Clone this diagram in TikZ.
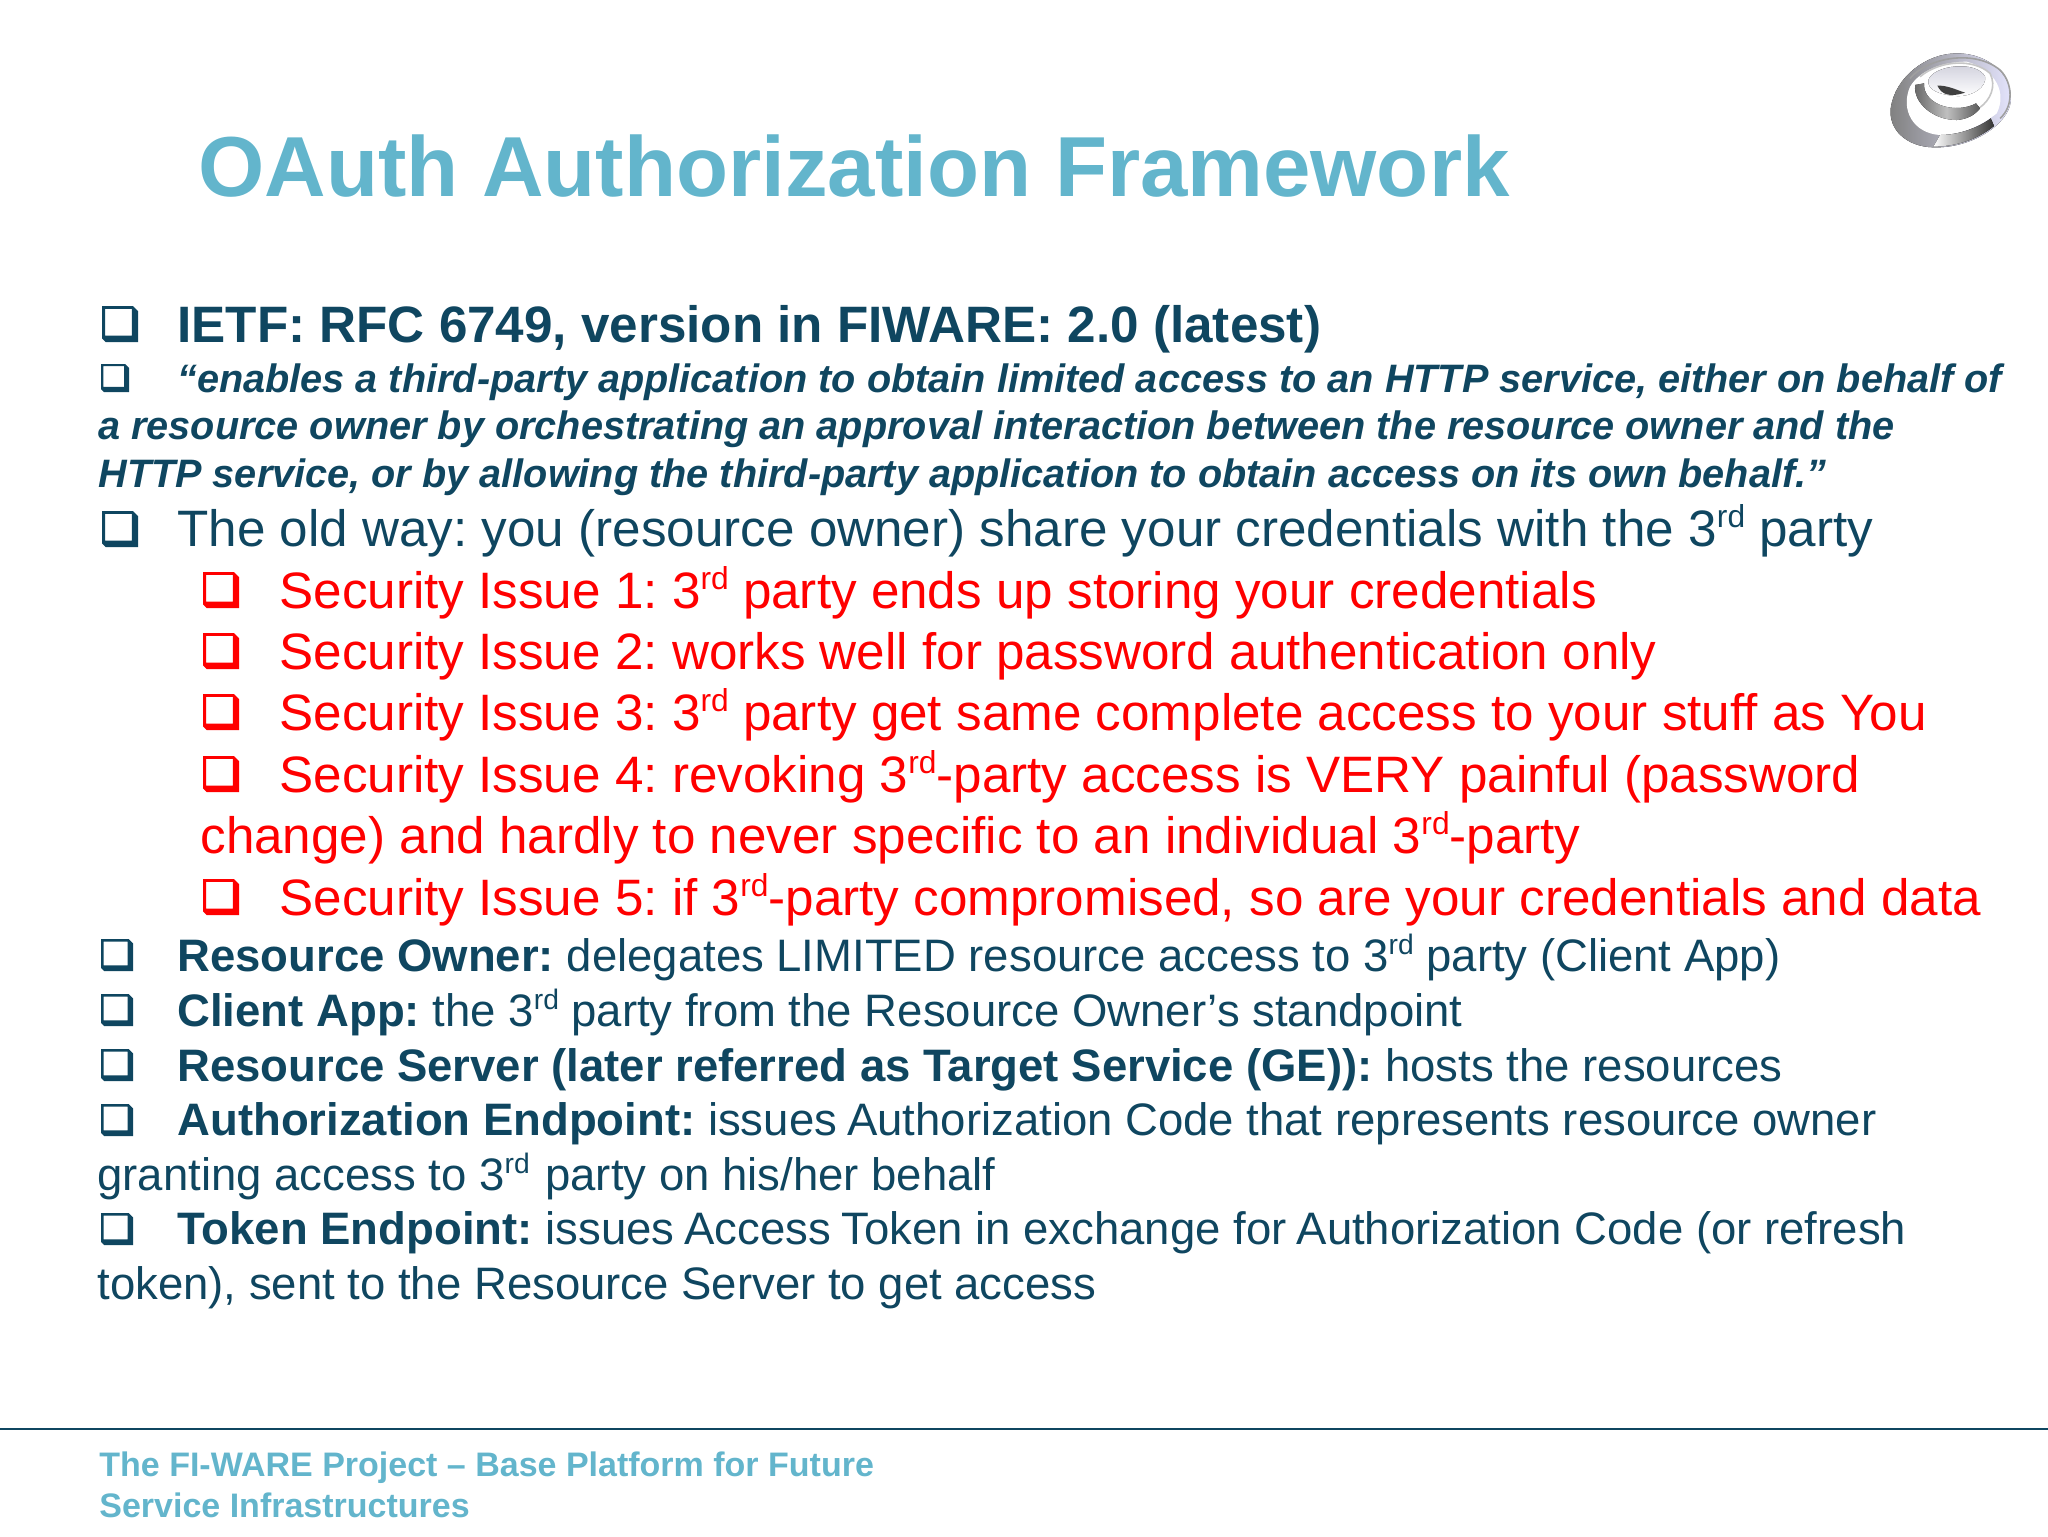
\documentclass[tikz,border=0pt]{standalone}
\usepackage{fontspec}
\setmainfont{Liberation Sans}
\frenchspacing
\definecolor{inkblue}{HTML}{0F4660}
\definecolor{skyblue}{HTML}{63B5CC}
\definecolor{alarmred}{HTML}{FF0000}
\newcommand{\thrd}{\raisebox{.36em}{\fontsize{.62em}{1em}\selectfont rd}}
\newcommand{\spA}{\kern-.055em A}
\newcommand{\spT}{\kern-.055em T}
% shadowed check box: x, baseline, size, colour
\newcommand{\chkbox}[4]{%
  \begin{scope}[shift={(#1,#2)},scale=#3]
    \fill[#4,even odd rule] (0,-.1) -- (.1,0) -- (1,0) -- (1,-.86) -- (.86,-1) -- (0,-1) -- cycle
      (.085,-.18) rectangle (.83,-.92);
  \end{scope}}
\tikzset{
  bodytext/.style={anchor=base west,inner sep=0pt,text=inkblue},
  bigtext/.style={bodytext,font=\fontsize{25.6}{30}\selectfont},
  midtext/.style={bodytext,font=\fontsize{22.75}{27}\selectfont},
  quotetext/.style={bodytext,font=\fontsize{19.83}{24}\bfseries\itshape\selectfont},
  redtext/.style={bigtext,text=alarmred},
  foottext/.style={anchor=base west,inner sep=0pt,text=skyblue,font=\fontsize{17}{20}\bfseries\selectfont}
}
\begin{document}
\begin{tikzpicture}[x=0.5pt,y=-0.5pt]
        \useasboundingbox (0,0) rectangle (2048,1536);

        % draw the title
        \node[anchor=base west,inner sep=0pt,text=skyblue,font=\fontsize{42.6}{48}\bfseries\selectfont] (title) at (198,196) {OAuth Authorization Framework};

        % draw the logo
        \begin{scope}[shift={(1800,20)},x=0.1667pt,y=-0.1667pt]
                % the disc with its dark left side
                \fill[left color=black!50,middle color=white,right color=blue!10] (272,265) .. controls (285,170) and (380,100) .. (470,100) .. controls (570,100) and (640,170) .. (632,245) .. controls (625,310) and (520,385) .. (400,382) .. controls (320,380) and (265,330) .. (272,265) -- cycle;
                \fill[white] (330,200) .. controls (300,270) and (340,340) .. (420,345) .. controls (480,345) and (540,320) .. (590,280) .. controls (620,220) and (590,150) .. (500,125) .. controls (430,125) and (360,150) .. (330,200) -- cycle;
                % the lower band
                \fill[left color=white,right color=black!80] (420,345) .. controls (480,345) and (540,320) .. (572,295) -- (582,318) .. controls (530,360) and (470,378) .. (400,380) -- cycle;
                % the middle ring
                \fill[left color=black!60,right color=black!65,middle color=gray!50] (345,195) .. controls (340,250) and (400,300) .. (470,300) .. controls (500,298) and (525,285) .. (540,265) -- (528,250) .. controls (500,265) and (460,270) .. (420,255) .. controls (385,240) and (370,215) .. (372,190) -- cycle;
                % the top dome and its mark
                \fill[top color=blue!15!gray!35,bottom color=white] (385,180) .. controls (400,135) and (530,120) .. (555,170) .. controls (560,200) and (520,230) .. (470,228) .. controls (420,225) and (380,210) .. (385,180) -- cycle;
                \fill[black!75] (412,197) .. controls (440,195) and (470,210) .. (495,218) .. controls (450,232) and (425,225) .. (412,197) -- cycle;
                % the thin grey rims
                \draw[gray!75,line width=.8pt] (330,175) .. controls (380,115) and (520,85) .. (600,150) .. controls (640,190) and (640,260) .. (600,295);
                \draw[gray!45,line width=.8pt] (360,170) .. controls (420,120) and (520,115) .. (570,160) .. controls (590,200) and (570,240) .. (540,262);
        \end{scope}

        % draw the dark lines
        \chkbox{102}{342}{36}{inkblue}
        \node[bigtext,font=\fontsize{25.6}{30}\bfseries\selectfont] (ietf) at (177,342) {IETF: RFC 6749, version in FIWARE: 2.0 (latest)};
        \chkbox{101}{392}{28}{inkblue}
        \node[quotetext] (quotea) at (177,392) {“enables a third-party application to obtain limited access to an HTTP service, either on behalf of};
        \node[quotetext] (quoteb) at (98,439) {a resource owner by orchestrating an approval interaction between the resource owner and the};
        \node[quotetext] (quotec) at (98,487) {HTTP service, or by allowing the third-party application to obtain access on its own behalf.”};
        \chkbox{102}{547}{36}{inkblue}
        \node[bigtext] (oldway) at (177,546) {The old way: you (resource owner) share your credentials with the 3\thrd{} party};

        % draw the security issues
        \foreach \y/\n/\issue in {
            608/a/Security Issue 1: 3\thrd{} party ends up storing your credentials,
            669/b/Security Issue 2: works well for password authentication only,
            730/c/Security Issue 3: 3\thrd{} party get same complete access to your stuff as You,
            792/d/Security Issue 4: revoking 3\thrd{}-party access is VERY painful (password,
            915/e/Security Issue 5: if 3\thrd{}-party compromised{,} so are your credentials and data} {
                \chkbox{203}{\y}{36}{alarmred}
                \node[redtext] (issue\n) at (279,\y) {\issue};
        }
        \node[redtext] (issued2) at (200,853) {change) and hardly to never specific to an individual 3\thrd{}-party};

        % draw the terms
        \foreach \y in {971,1026,1081,1136,1245} {
                \chkbox{101}{\y}{32}{inkblue}
        }
        \node[midtext] (owner) at (177,971) {\textbf{Resource Owner:} delegates LIMITED resource access to 3\thrd{} party (Client App)};
        \node[midtext] (client) at (177,1026) {\textbf{Client App:} the 3\thrd{} party from the Resource Owner’s standpoint};
        \node[midtext] (server) at (177,1081) {\textbf{Resource Server (later referred as Target Service (GE)):} hosts the resources};
        \node[midtext] (authz) at (177,1135) {\textbf{Authorization Endpoint:} issues \spA uthorization Code that represents resource owner};
        \node[midtext] (authzb) at (97,1190) {granting access to 3\thrd{}\kern1.5pt{} party on his/her behalf};
        \node[midtext] (token) at (177,1244) {\textbf{Token Endpoint:} issues \spA ccess \spT oken in exchange for \spA uthorization Code (or refresh};
        \node[midtext] (tokenb) at (97,1299) {token), sent to the Resource Server to get access};

        % draw the footer
        \coordinate (ruleleft) at (0,1429);
        \coordinate (ruleright) at (2048,1429);
        \draw[inkblue,line width=1.4pt] (ruleleft) -- (ruleright);
        \node[foottext] (foota) at (99,1476) {The FI-WARE Project – Base Platform for Future};
        \node[foottext] (footb) at (99,1517) {Service Infrastructures};
\end{tikzpicture}
\end{document}
